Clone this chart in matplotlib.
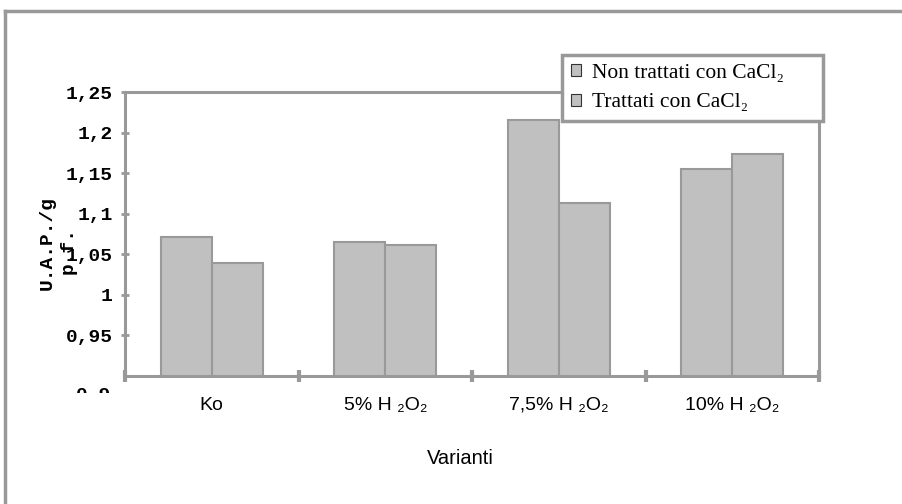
import matplotlib

matplotlib.use("Agg")
import matplotlib.pyplot as plt
import numpy as np
from matplotlib.lines import Line2D
from matplotlib.patches import Patch
from matplotlib.transforms import Bbox

categories = ["Ko", "5% H \u2082O\u2082", "7,5% H \u2082O\u2082", "10% H \u2082O\u2082"]
non_trattati = [1.071, 1.065, 1.215, 1.155]
trattati = [1.039, 1.061, 1.113, 1.173]
series_labels = ["Non trattati con CaCl\u2082", "Trattati con CaCl\u2082"]
yticks = [0.95, 1.0, 1.05, 1.1, 1.15, 1.2, 1.25]
ytick_labels = ["0,95", "1", "1,05", "1,1", "1,15", "1,2", "1,25"]

GREY = "#999999"
FILL = "#c0c0c0"
MONO = ["Liberation Mono", "DejaVu Sans Mono"]
SANS = ["Liberation Sans", "DejaVu Sans"]
SERIF = ["Liberation Serif", "DejaVu Serif"]

W, H = 903, 504
fig = plt.figure(figsize=(W / 100, H / 100), dpi=100)
ax = fig.add_axes([125 / W, 1 - 376 / H, 694 / W, 284 / H])

x = np.arange(len(categories))
w = 0.295
ax.bar(x - w, non_trattati, w, align="edge", color=FILL, edgecolor=GREY, linewidth=1.5)
ax.bar(x, trattati, w, align="edge", color=FILL, edgecolor=GREY, linewidth=1.5)

ax.set_xlim(-0.5, len(categories) - 0.5)
ax.set_ylim(0.9, 1.25)

for s in ax.spines.values():
    s.set_color(GREY)
    s.set_linewidth(2.2)

ax.set_yticks(yticks)
ax.set_yticklabels(ytick_labels, fontfamily=MONO, fontweight="bold", fontsize=14)
ax.tick_params(axis="y", direction="inout", length=6, width=2, color=GREY, pad=6)

# category boundary ticks, labels centred between them
ax.set_xticks(np.arange(len(categories) + 1) - 0.5)
ax.set_xticklabels([])
ax.set_xticks(x, minor=True)
ax.set_xticklabels(categories, minor=True, fontfamily=SANS, fontsize=14)
ax.tick_params(axis="x", which="major", direction="inout", length=9, width=3, color=GREY)
ax.tick_params(axis="x", which="minor", length=0, pad=15)

# the 0,9 label is cut off in the original, only its top shows
t = fig.text(111 / W, 1 - 387 / H, "0,9", ha="right", va="top",
             fontfamily=MONO, fontweight="bold", fontsize=14)
t.set_clip_on(True)
t.set_clip_box(Bbox([[0, H - 393], [W, H]]))

ax.set_xlabel("Varianti", fontfamily=SANS, fontsize=14.5)
ax.xaxis.set_label_coords((460 - 125) / 694, (376 - 449) / 284)

# two-line axis title, second line runs into the 1,05 tick label as in the original
fig.text(47 / W, 1 - 243 / H, "U.A.P./g", rotation=90, ha="center", va="center",
         fontfamily=MONO, fontweight="bold", fontsize=14)
fig.text(68 / W, 1 - 251 / H, "p.f.", rotation=90, ha="center", va="center",
         fontfamily=MONO, fontweight="bold", fontsize=14)

handles = [Patch(facecolor=FILL, edgecolor="#333333", linewidth=0.8) for _ in series_labels]
leg = fig.legend(handles, series_labels, loc="upper left", mode="expand",
                 bbox_to_anchor=(562 / W, 1 - 118 / H, 261 / W, 63 / H),
                 prop={"family": SERIF, "size": 15.5},
                 fancybox=False, framealpha=1, edgecolor=GREY, handlelength=0.5,
                 handleheight=0.5, handletextpad=0.5, borderpad=0.4, labelspacing=0.5,
                 borderaxespad=0)
leg.get_frame().set_linewidth(2.5)

# outer chart-area frame (cut at right and bottom)
fig.add_artist(Line2D([5 / W, 5 / W], [0, 1 - 11 / H], color=GREY, lw=2.5,
                      transform=fig.transFigure))
fig.add_artist(Line2D([5 / W, 1], [1 - 11 / H, 1 - 11 / H], color=GREY, lw=2.5,
                      transform=fig.transFigure))

fig.savefig("out.png", dpi=100)
